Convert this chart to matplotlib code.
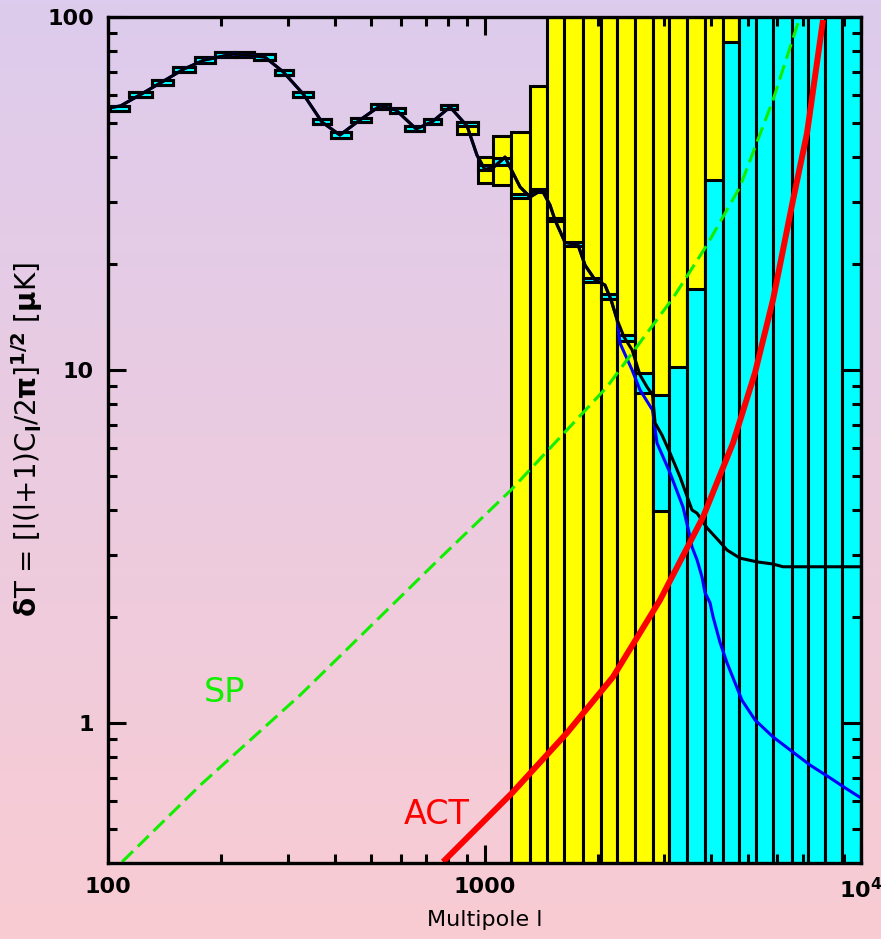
import numpy as np
import matplotlib.pyplot as plt
from matplotlib.ticker import FixedLocator, FixedFormatter, LogLocator, NullFormatter

plt.rcParams['font.family'] = ['DejaVu Sans']
plt.rcParams['font.weight'] = 'bold'
plt.rcParams['mathtext.fontset'] = 'custom'
plt.rcParams['mathtext.rm'] = 'DejaVu Sans:bold'
plt.rcParams['mathtext.it'] = 'DejaVu Sans:bold'
plt.rcParams['mathtext.bf'] = 'DejaVu Sans:bold'
plt.rcParams['mathtext.default'] = 'rm'

# bins in multipole l (lower edges, last upper edge is 10^4)
bin_lo = [101, 114, 131, 149, 170, 192, 217, 244, 278, 310,
          350, 392, 442, 500, 560, 615, 690, 765, 845, 961,
          1053, 1176, 1321, 1469, 1629, 1830, 2035, 2244, 2510, 2797,
          3096, 3444, 3852, 4293, 4752, 5262, 5829, 6545, 7245, 8025,
          8887]
bin_hi = bin_lo[1:] + [10000]

# cyan error boxes (bottom / top, muK)
cyan_lo = [54.2, 59.3, 64.3, 70.0, 74.3, 77.2, 77.2, 75.7, 68.4, 59.5,
           49.6, 45.5, 50.4, 55.0, 53.6, 47.4, 49.6, 54.7,
           49.2, 36.8, 38.2, 30.8, 32.0, 26.4, 22.4, 17.7, 15.9, 12.1, 8.61, 3.99,
           0.01, 0.01, 0.01, 0.01, 0.01, 0.01, 0.01, 0.01, 0.01, 0.01, 0.01]
cyan_hi = [56.0, 61.3, 66.5, 72.4, 76.8, 79.8, 79.8, 78.3, 70.8, 61.5,
           51.3, 47.1, 51.6, 56.8, 55.4, 49.0, 51.3, 56.5,
           50.4, 38.1, 39.8, 31.6, 32.6, 27.0, 23.0, 18.2, 16.4, 12.6, 9.81, 8.50,
           10.2, 17.0, 34.5, 85.0, 300, 300, 300, 300, 300, 300, 300]

# yellow error boxes (bottom / top, muK)
yel_lo = cyan_lo[:18] + [46.6, 33.9, 33.4] + [0.01] * 20
yel_hi = cyan_hi[:18] + [50.4, 40.1, 46.0, 47.2, 63.7] + [300] * 18

# total spectrum (black)
tot_l = [100, 108, 122, 139, 159, 180, 216, 261, 292, 330, 370, 413, 467, 528,
         582, 658, 725, 810, 899, 955, 1003, 1066, 1134, 1183, 1243, 1321, 1421,
         1493, 1539, 1636, 1772, 1850, 1966, 2089, 2168, 2249, 2347, 2466, 2588,
         2702, 2794, 2838, 2961, 3110, 3306, 3558, 3668, 3899, 4172, 4407, 4770,
         5294, 5838, 6206, 10000]
tot_dT = [55.2, 56.0, 60.3, 65.4, 71.2, 75.5, 78.6, 77.0, 69.9, 60.5, 50.4, 46.3,
          51.1, 56.0, 54.5, 48.2, 50.4, 55.6, 49.1, 40.6, 36.9, 37.8, 40.1, 36.6,
          33.0, 30.9, 32.4, 29.3, 26.6, 23.0, 22.6, 19.8, 18.0, 17.4, 15.8, 13.9,
          12.4, 11.4, 9.68, 8.95, 8.50, 7.08, 6.54, 5.82, 4.98, 4.01, 3.93, 3.57,
          3.30, 3.09, 2.93, 2.86, 2.82, 2.77, 2.77]

# primary CMB damping tail (blue)
cmb_l = [2291, 2466, 2588, 2794, 2872, 3110, 3367, 3514, 3558, 3668, 3782, 3852,
         3972, 4046, 4223, 4407, 4627, 4829, 5229, 5838, 6478, 7320, 8275, 9070, 10000]
cmb_dT = [11.9, 10.0, 8.78, 7.70, 6.21, 5.11, 4.09, 3.37, 3.15, 2.90, 2.59, 2.34,
          2.19, 2.00, 1.69, 1.48, 1.30, 1.16, 1.02, 0.913, 0.839, 0.760, 0.699, 0.655, 0.613]

# noise curves
sp_l = [109, 176, 324, 762, 1176, 2115, 3168, 3899, 4770, 5838, 6803]
sp_dT = [0.404, 0.667, 1.20, 2.93, 4.57, 8.95, 16.0, 22.6, 33.0, 58.2, 96.2]
act_l = [776, 1183, 1656, 2194, 2926, 3805, 4571, 5229, 5838, 6598, 7189, 7928]
act_dT = [0.404, 0.633, 0.937, 1.35, 2.23, 3.83, 6.21, 9.81, 15.8, 30.3, 46.9, 98.1]

fig = plt.figure(figsize=(8.81, 9.39), dpi=100)

# background gradient
bg = fig.add_axes([0, 0, 1, 1])
top_rgb = np.array([221, 204, 237]) / 255
bot_rgb = np.array([249, 203, 211]) / 255
t = np.linspace(0, 1, 256)[:, None]
grad = top_rgb * (1 - t) + bot_rgb * t
bg.imshow(grad[:, None, :], aspect='auto', extent=(0, 1, 0, 1))
bg.axis('off')

ax = fig.add_axes([0.1226, 0.0809, 0.8547, 0.9010])
ax.set_facecolor('none')
ax.set_xscale('log')
ax.set_yscale('log')

lo = np.array(bin_lo, float)
hi = np.array(bin_hi, float)
ax.bar(lo, np.array(yel_hi) - np.array(yel_lo), width=hi - lo, bottom=yel_lo,
       align='edge', color='#ffff00', edgecolor='black', linewidth=2.2, zorder=1)
ax.bar(lo, np.array(cyan_hi) - np.array(cyan_lo), width=hi - lo, bottom=cyan_lo,
       align='edge', color='#00ffff', edgecolor='black', linewidth=2.2, zorder=1.5)

n = sum(1 for v in tot_l if v < cmb_l[0])
ax.plot(tot_l[:n] + cmb_l, tot_dT[:n] + cmb_dT, color='#0000ff', lw=2.2, zorder=3)
ax.plot(tot_l, tot_dT, color='black', lw=2.2, zorder=3.2)
ax.plot(sp_l, sp_dT, color='#11ee00', lw=2.2, dashes=(5, 2.2), zorder=3.5)
ax.plot(act_l, act_dT, color='#ff0000', lw=4.3, zorder=3.6, solid_capstyle='butt')

ax.text(204, 1.22, 'SP', color='#11ee00', fontsize=24, fontweight='normal',
        ha='center', va='center')
ax.text(748, 0.552, 'ACT', color='#ff0000', fontsize=24, fontweight='normal',
        ha='center', va='center')

ax.set_xlim(100, 10000)
ax.set_ylim(0.401, 100)

ax.xaxis.set_major_locator(FixedLocator([100, 1000, 10000]))
ax.xaxis.set_major_formatter(FixedFormatter(['100', '1000', r'$10^4$']))
ax.yaxis.set_major_locator(FixedLocator([1, 10, 100]))
ax.yaxis.set_major_formatter(FixedFormatter(['1', '10', '100']))
ax.xaxis.set_minor_locator(LogLocator(base=10, subs=np.arange(2, 10)))
ax.yaxis.set_minor_locator(LogLocator(base=10, subs=np.arange(2, 10)))
ax.xaxis.set_minor_formatter(NullFormatter())
ax.yaxis.set_minor_formatter(NullFormatter())

ax.tick_params(which='both', direction='in', top=True, right=True, width=2.2,
               colors='black')
ax.tick_params(which='major', length=13, pad=10, labelsize=16)
ax.tick_params(which='minor', length=6.5)
for s in ax.spines.values():
    s.set_linewidth(2.4)
    s.set_zorder(4)

ax.set_xlabel('Multipole l', fontsize=16, labelpad=6)
ax.set_ylabel(r'$\delta$T = [l(l+1)C$_l$/2$\pi$]$^{1/2}$ [$\mu$K]', fontsize=20, labelpad=2)

fig.savefig('out.png', dpi=100)
